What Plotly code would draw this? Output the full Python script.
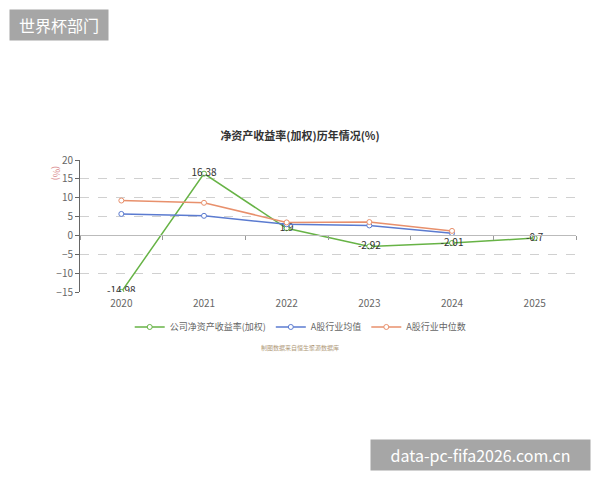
import plotly.graph_objects as go

years = ["2020", "2021", "2022", "2023", "2024", "2025"]
company = [-14.98, 16.38, 1.9, -2.92, -2.01, -0.7]
company_labels = ["-14.98", "16.38", "1.9", "-2.92", "-2.01", "-0.7"]
avg_years = ["2020", "2021", "2022", "2023", "2024"]
industry_mean = [5.7, 5.2, 2.95, 2.65, 0.6]
industry_median = [9.25, 8.65, 3.45, 3.55, 1.2]

FONT = "Noto Sans CJK SC"
green = "#67b346"
blue = "#5b7bd0"
orange = "#e8906c"

fig = go.Figure()
fig.add_trace(go.Scatter(
    x=years, y=company, mode="lines+markers+text", name="公司净资产收益率(加权)",
    text=company_labels, textposition="middle center",
    textfont=dict(size=10, color="#333", family=FONT),
    line=dict(color=green, width=1.5),
    marker=dict(symbol="circle", size=5, color="white", line=dict(color=green, width=1)),
))
fig.add_trace(go.Scatter(
    x=avg_years, y=industry_mean, mode="lines+markers", name="A股行业均值",
    line=dict(color=blue, width=1.5),
    marker=dict(symbol="circle", size=5, color="white", line=dict(color=blue, width=1)),
))
fig.add_trace(go.Scatter(
    x=avg_years, y=industry_median, mode="lines+markers", name="A股行业中位数",
    line=dict(color=orange, width=1.5),
    marker=dict(symbol="circle", size=5, color="white", line=dict(color=orange, width=1)),
))
# invisible trace to activate the zero-line axis
fig.add_trace(go.Scatter(x=years, y=[None]*6, xaxis="x2", showlegend=False, hoverinfo="skip"))

fig.update_layout(
    width=600, height=480,
    margin=dict(l=80, r=24, t=160, b=188),
    paper_bgcolor="white", plot_bgcolor="white",
    font=dict(family=FONT, size=10, color="#666"),
    title=dict(text="<b>净资产收益率(加权)历年情况(%)</b>", x=0.5, xanchor="center",
               y=1 - 136/480, yanchor="middle", yref="container",
               font=dict(size=11, color="#333", family=FONT)),
    xaxis=dict(type="category", categoryorder="array", categoryarray=years,
               range=[-0.5, 5.5], showgrid=False, showline=False, zeroline=False,
               ticks="", ticklabelstandoff=4, tickfont=dict(size=10, color="#666")),
    xaxis2=dict(type="category", categoryorder="array", categoryarray=years,
                range=[-0.5, 5.5], overlaying="x", anchor="free", position=15/35,
                showline=True, linecolor="#bbb", linewidth=1, showgrid=False,
                ticks="outside", tickson="boundaries", ticklen=4, tickcolor="#999",
                showticklabels=False, zeroline=False),
    yaxis=dict(range=[-15, 20], dtick=5, showgrid=True, gridcolor="#d0d0d0",
               griddash="dash", gridwidth=1, zeroline=False,
               showline=True, linecolor="#666", linewidth=1,
               ticks="outside", ticklen=4, tickcolor="#666",
               tickfont=dict(size=10, color="#666")),
    legend=dict(orientation="h", x=0.445, xanchor="center", y=-0.265, yanchor="middle",
                font=dict(size=9, color="#666", family=FONT), itemwidth=30,
                bgcolor="rgba(0,0,0,0)"),
    showlegend=True,
)

fig.add_annotation(text="(%)", xref="paper", yref="paper", x=-0.046, y=0.9,
                   xanchor="center", yanchor="middle",
                   textangle=90, showarrow=False,
                   font=dict(size=9, color="#d9898c", family=FONT))
fig.add_annotation(text="制图数据来自恒生聚源数据库", xref="paper", yref="paper",
                   x=0.443, y=-0.424, xanchor="center", yanchor="middle", showarrow=False,
                   font=dict(size=6, color="#b09a7a", family=FONT))
fig.add_annotation(text="世界杯部门", xref="paper", yref="paper",
                   x=(59-80)/496, y=(292-25)/132, xanchor="center", yanchor="middle",
                   showarrow=False,
                   width=98, height=30, bgcolor="#a6a6a6", borderpad=0,
                   font=dict(size=16, color="white", family=FONT))
fig.add_annotation(text="data-pc-fifa2026.com.cn", xref="paper", yref="paper",
                   x=(480.5-80)/496, y=(292-455)/132, xanchor="center", yanchor="middle",
                   showarrow=False,
                   width=219, height=30, bgcolor="#a6a6a6", borderpad=0,
                   font=dict(size=16, color="white", family=FONT))

fig.write_html("out.html")
